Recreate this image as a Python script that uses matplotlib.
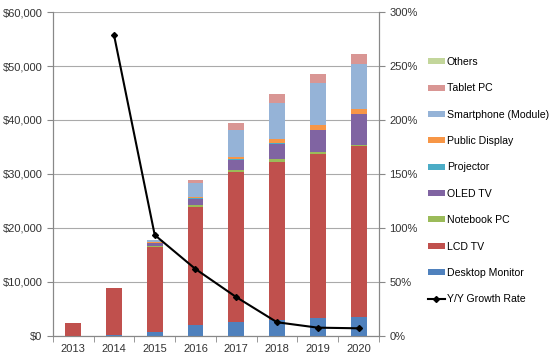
import matplotlib
matplotlib.use("Agg")
import matplotlib.pyplot as plt
import numpy as np
from matplotlib.ticker import FuncFormatter

plt.rcParams['font.family'] = ['Liberation Sans', 'DejaVu Sans']

years = ['2013', '2014', '2015', '2016', '2017', '2018', '2019', '2020']

# revenue by application, US$ M
desktop_monitor = [0, 100, 700, 2000, 2650, 3000, 3300, 3600]
lcd_tv = [2400, 8800, 15800, 21900, 27750, 29300, 30400, 31500]
notebook_pc = [0, 0, 200, 300, 300, 400, 400, 300]
oled_tv = [0, 0, 500, 1200, 1900, 2900, 4000, 5700]
projector = [0, 0, 50, 100, 100, 100, 100, 100]
public_display = [0, 0, 150, 300, 500, 700, 900, 800]
smartphone = [0, 0, 300, 2600, 4900, 6700, 7700, 8400]
tablet_pc = [0, 0, 100, 500, 1400, 1700, 1700, 1800]
others = [0, 0, 0, 0, 0, 0, 0, 0]

growth_years = ['2014', '2015', '2016', '2017', '2018', '2019', '2020']
growth_rate = [279, 93.5, 62, 36, 12.7, 7.7, 7.1]

series = [
    ('Desktop Monitor', desktop_monitor, '#4F81BD'),
    ('LCD TV', lcd_tv, '#C0504D'),
    ('Notebook PC', notebook_pc, '#9BBB59'),
    ('OLED TV', oled_tv, '#8064A2'),
    ('Projector', projector, '#4BACC6'),
    ('Public Display', public_display, '#F79646'),
    ('Smartphone (Module)', smartphone, '#95B3D7'),
    ('Tablet PC', tablet_pc, '#D99694'),
    ('Others', others, '#C3D69B'),
]

fig = plt.figure(figsize=(5.5, 3.64), dpi=100)
ax = fig.add_axes([0.096, 0.077, 0.593, 0.89])

x = np.arange(len(years))
bottom = np.zeros(len(years))
handles = []
for name, vals, col in series:
    b = ax.bar(x, vals, 0.39, bottom=bottom, color=col, label=name, zorder=3)
    bottom += np.array(vals)
    handles.append(b)

ax.set_xlim(-0.5, len(years) - 0.5)
ax.set_ylim(0, 60000)
ax.set_yticks(np.arange(0, 60001, 10000))
ax.yaxis.set_major_formatter(FuncFormatter(lambda v, p: '${:,.0f}'.format(v)))
ax.set_xticks(x)
ax.set_xticklabels(years)
ax.set_xticks(np.arange(-0.5, len(years), 1), minor=True)
ax.tick_params(axis='x', which='major', length=0, pad=6)
ax.tick_params(axis='x', which='minor', length=4, color='#888888')
ax.tick_params(axis='y', length=4, color='#888888')
ax.tick_params(labelsize=8, labelcolor='#333333')
ax.grid(axis='y', color='#AAAAAA', linewidth=0.8, zorder=0)
ax.spines['top'].set_visible(False)
for s in ['left', 'right', 'bottom']:
    ax.spines[s].set_color('#888888')

ax2 = ax.twinx()
gx = [years.index(y) for y in growth_years]
line, = ax2.plot(gx, growth_rate, color='black', linewidth=1.5, marker='D',
                 markersize=3, label='Y/Y Growth Rate', zorder=5)
ax2.set_ylim(0, 300)
ax2.set_yticks(np.arange(0, 301, 50))
ax2.yaxis.set_major_formatter(FuncFormatter(lambda v, p: '{:.0f}%'.format(v)))
ax2.tick_params(axis='y', length=4, color='#888888', labelsize=8, labelcolor='#333333')
ax2.spines['top'].set_visible(False)
for s in ['left', 'right', 'bottom']:
    ax2.spines[s].set_color('#888888')

leg_handles = handles[::-1] + [line]
leg_labels = [s[0] for s in series[::-1]] + ['Y/Y Growth Rate']
fig.legend(leg_handles, leg_labels, loc='upper left', bbox_to_anchor=(0.77, 0.855),
           frameon=False, fontsize=7.6, handlelength=1.6, handleheight=0.5,
           labelspacing=1.55, handletextpad=0.2, borderaxespad=0)

fig.savefig('out.png', dpi=100)
